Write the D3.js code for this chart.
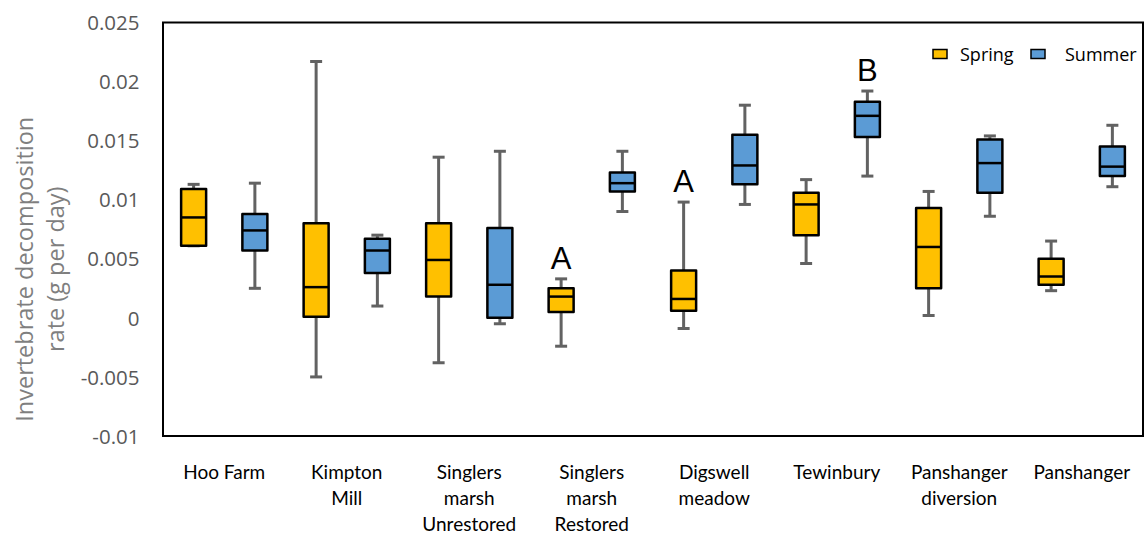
<!DOCTYPE html>
<html>
<head>
<meta charset="utf-8">
<script src="https://cdn.jsdelivr.net/npm/d3@7"></script>
<style>
  html, body { margin: 0; padding: 0; background: #fff; }
  svg { display: block; }
</style>
</head>
<body>
<svg id="chart" width="1146" height="535"></svg>
<script>
// ---- data ----
const categories = ["Hoo Farm", "Kimpton Mill", "Singlers marsh Unrestored", "Singlers marsh Restored",
  "Digswell meadow", "Tewinbury", "Panshanger diversion", "Panshanger"];
const categoryLines = [["Hoo Farm"], ["Kimpton", "Mill"], ["Singlers", "marsh", "Unrestored"],
  ["Singlers", "marsh", "Restored"], ["Digswell", "meadow"], ["Tewinbury"], ["Panshanger", "diversion"], ["Panshanger"]];
const seriesNames = ["Spring", "Summer"];

const springMax    = [0.0113, 0.0217, 0.0136, 0.0033, 0.0098, 0.0117, 0.0107, 0.0065];
const springQ3     = [0.0109, 0.0080, 0.0080, 0.0025, 0.0040, 0.0106, 0.0093, 0.0050];
const springMedian = [0.0085, 0.0026, 0.0049, 0.0018, 0.0016, 0.0096, 0.0060, 0.0035];
const springQ1     = [0.0061, 0.0001, 0.0018, 0.0005, 0.0006, 0.0070, 0.0025, 0.0028];
const springMin    = [0.0061, -0.0050, -0.0038, -0.0024, -0.0009, 0.0046, 0.0002, 0.0023];

const summerMax    = [0.0114, 0.0070, 0.0141, 0.0141, 0.0180, 0.0192, 0.0154, 0.0163];
const summerQ3     = [0.0088, 0.0067, 0.0076, 0.0123, 0.0155, 0.0183, 0.0151, 0.0145];
const summerMedian = [0.0074, 0.0057, 0.0028, 0.0114, 0.0129, 0.0171, 0.0131, 0.0128];
const summerQ1     = [0.0057, 0.0038, 0.0000, 0.0107, 0.0113, 0.0153, 0.0106, 0.0120];
const summerMin    = [0.0025, 0.0010, -0.0005, 0.0090, 0.0096, 0.0120, 0.0086, 0.0111];

const yTicks = [0.025, 0.02, 0.015, 0.01, 0.005, 0, -0.005, -0.01];
const yTickLabels = ["0.025", "0.02", "0.015", "0.01", "0.005", "0", "-0.005", "-0.01"];

const annotations = [
  { category: "Singlers marsh Restored", series: "Spring", text: "A" },
  { category: "Digswell meadow", series: "Spring", text: "A" },
  { category: "Tewinbury", series: "Summer", text: "B" }
];

const yTitleLines = ["Invertebrate decomposition", "rate (g per day)"];

// ---- build ----
const colors = { Spring: "#FFC000", Summer: "#5B9BD5" };
const seriesData = {
  Spring: { max: springMax, q3: springQ3, med: springMedian, q1: springQ1, min: springMin },
  Summer: { max: summerMax, q3: summerQ3, med: summerMedian, q1: summerQ1, min: summerMin }
};

const plot = { left: 163, right: 1143, top: 22.5, bottom: 436 };
const svg = d3.select("#chart");

const x0 = d3.scaleBand().domain(categories).range([plot.left, plot.right]).padding(0);
const x1 = d3.scaleBand().domain(seriesNames).range([0, x0.bandwidth()]).padding(0);
const y = d3.scaleLinear().domain([-0.01, 0.025]).range([plot.bottom, plot.top]);

const boxW = 25, capW = 12;

// y axis labels
const yAxis = d3.axisLeft(y).tickValues(yTicks).tickSize(0).tickPadding(0)
  .tickFormat((d, i) => yTickLabels[i]);
const gy = svg.append("g").attr("transform", `translate(139.5,0)`).call(yAxis);
gy.select(".domain").remove();
gy.selectAll("text").attr("font-family", "'Open Sans', sans-serif").attr("font-size", 20.5)
  .attr("fill", "#595959").attr("dy", "0.35em");

// y title
const yt = svg.append("text")
  .attr("transform", `translate(33,${(plot.top + plot.bottom) / 2 + 40}) rotate(-90)`)
  .attr("font-family", "'Open Sans', sans-serif").attr("font-size", 23.5).attr("fill", "#7f7f7f")
  .attr("text-anchor", "middle");
yt.append("tspan").attr("x", 0).attr("y", 0).text(yTitleLines[0]);
yt.append("tspan").attr("x", 0).attr("y", 31).text(yTitleLines[1]);

// boxes
const items = [];
categories.forEach((c, i) => {
  seriesNames.forEach(s => {
    const d = seriesData[s];
    items.push({ c, s, max: d.max[i], q3: d.q3[i], med: d.med[i], q1: d.q1[i], min: d.min[i],
      cx: x0(c) + x1(s) + x1.bandwidth() / 2 });
  });
});

const g = svg.append("g");
const whiskerColor = "#626262";
items.forEach(d => {
  g.append("line").attr("x1", d.cx).attr("x2", d.cx).attr("y1", y(d.max)).attr("y2", y(d.q3))
    .attr("stroke", whiskerColor).attr("stroke-width", 3);
  g.append("line").attr("x1", d.cx).attr("x2", d.cx).attr("y1", y(d.q1)).attr("y2", y(d.min))
    .attr("stroke", whiskerColor).attr("stroke-width", 3);
  [d.max, d.min].forEach(v => {
    g.append("line").attr("x1", d.cx - capW / 2).attr("x2", d.cx + capW / 2)
      .attr("y1", y(v)).attr("y2", y(v)).attr("stroke", whiskerColor).attr("stroke-width", 3);
  });
});
items.forEach(d => {
  g.append("rect").attr("x", d.cx - boxW / 2).attr("y", y(d.q3))
    .attr("width", boxW).attr("height", y(d.q1) - y(d.q3))
    .attr("fill", colors[d.s]).attr("stroke", "#000").attr("stroke-width", 2.5)
    .attr("stroke-linejoin", "round");
  g.append("line").attr("x1", d.cx - boxW / 2).attr("x2", d.cx + boxW / 2)
    .attr("y1", y(d.med)).attr("y2", y(d.med)).attr("stroke", "#000").attr("stroke-width", 2.5);
});

// annotations
annotations.forEach(a => {
  const i = categories.indexOf(a.category);
  const cx = x0(a.category) + x1(a.series) + x1.bandwidth() / 2;
  svg.append("text").attr("x", cx).attr("y", y(seriesData[a.series].max[i]) - 10)
    .attr("text-anchor", "middle").attr("font-family", "'Liberation Sans', Arial, sans-serif")
    .attr("font-size", 31).attr("fill", "#000").text(a.text);
});

// plot border
svg.append("rect").attr("x", plot.left).attr("y", plot.top)
  .attr("width", plot.right - plot.left).attr("height", plot.bottom - plot.top)
  .attr("fill", "none").attr("stroke", "#000").attr("stroke-width", 2);

// x category labels
const xAxis = d3.axisBottom(x0).tickSize(0).tickFormat("");
const gx = svg.append("g").attr("transform", `translate(0,${plot.bottom})`).call(xAxis);
gx.select(".domain").remove();
categories.forEach((c, i) => {
  const t = svg.append("text").attr("text-anchor", "middle")
    .attr("font-family", "Lato, 'Open Sans', sans-serif").attr("font-size", 19).attr("fill", "#000");
  categoryLines[i].forEach((ln, k) => {
    t.append("tspan").attr("x", x0(c) + x0.bandwidth() / 2).attr("y", 479 + k * 26).text(ln);
  });
});

// legend
const legend = svg.append("g");
const legendX = [933, 1031];
const textX = [960, 1065];
seriesNames.forEach((s, i) => {
  legend.append("rect").attr("x", legendX[i]).attr("y", 49.5).attr("width", 14).attr("height", 9)
    .attr("fill", colors[s]).attr("stroke", "#000").attr("stroke-width", 1.5);
  legend.append("text").attr("x", textX[i]).attr("y", 61)
    .attr("font-family", "'Open Sans', sans-serif").attr("font-size", 18).attr("fill", "#000").text(s);
});
</script>
</body>
</html>
